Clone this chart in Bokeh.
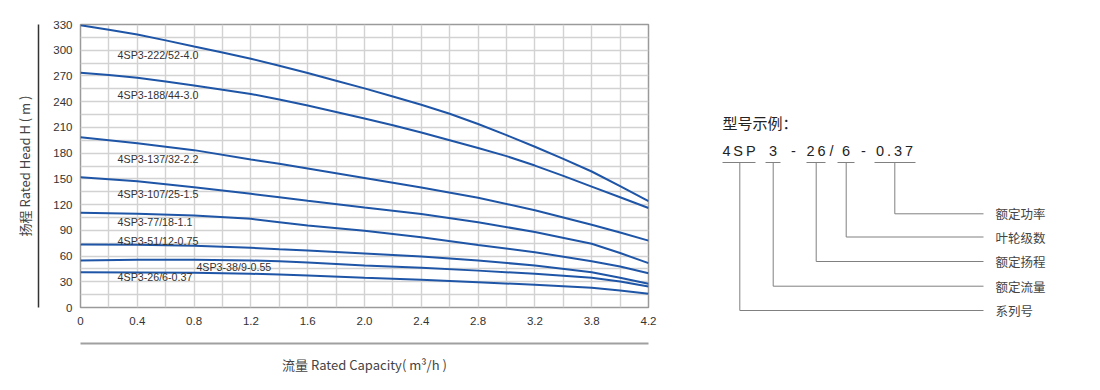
from bokeh.plotting import figure
from bokeh.models import LinearAxis, FixedTicker, Range1d
from bokeh.layouts import row
from bokeh.embed import file_html
from bokeh.resources import INLINE
from bokeh.core.properties import value

# ---------------- data ----------------
flow_fine = [0.0, 0.21, 0.42, 0.63, 0.84, 1.05, 1.26, 1.47, 1.68, 1.89, 2.1,
             2.31, 2.52, 2.73, 2.94, 3.15, 3.36, 3.57, 3.78, 3.99, 4.2]
flow_mid = [0.0, 0.42, 0.84, 1.26, 1.47, 1.68, 2.1, 2.52, 2.94, 3.36, 3.78, 3.99, 4.2]
x_tick_pos = [0.0, 0.42, 0.84, 1.26, 1.68, 2.1, 2.52, 2.94, 3.36, 3.78, 4.2]
x_tick_labels = ["0", "0.4", "0.8", "1.2", "1.6", "2.0", "2.4", "2.8", "3.2", "3.8", "4.2"]
y_ticks = [0, 30, 60, 90, 120, 150, 180, 210, 240, 270, 300, 330]

model_names = ["4SP3-222/52-4.0", "4SP3-188/44-3.0", "4SP3-137/32-2.2", "4SP3-107/25-1.5",
               "4SP3-77/18-1.1", "4SP3-51/12-0.75", "4SP3-38/9-0.55", "4SP3-26/6-0.37"]

# heads read at flow_fine
head_222 = [329, 324, 318.3, 311.5, 304.3, 297.3, 290, 282, 273.5, 264.5, 255.5,
            246, 236.5, 226, 214, 201, 187.4, 173.4, 158.6, 141.5, 124]
head_188 = [273.6, 271, 267.8, 263.5, 258.8, 254, 249, 242.5, 235.5, 228, 220.5,
            212.5, 204, 195, 186, 176.5, 165.5, 153.5, 141, 128.5, 116]
# heads read at flow_mid
head_137 = [198.6, 191.6, 183.5, 172.5, 167.5, 162, 151, 140, 128, 113.5, 96.5, 87.5, 78]
head_107 = [152, 147.3, 140.3, 132.6, 128.6, 124.5, 116.5, 109, 99.5, 88, 74.3, 63.5, 51.7]
head_77 = [110.4, 109.2, 107.3, 103.4, 99.5, 95.5, 89.4, 82, 73, 64.5, 54, 47.8, 40]
head_51 = [73.5, 73.1, 71.9, 69.6, 68, 66.5, 63, 59.5, 54.8, 49, 41, 34.8, 27.6]
head_38 = [54.8, 55.6, 55.6, 54.8, 54, 52.5, 49, 46.3, 43, 39.3, 34.6, 30.2, 24.5]
head_26 = [41.2, 40.8, 40.4, 39.3, 38.5, 37.3, 34.6, 32.3, 29.5, 26.5, 23, 19.8, 16]

fine_heads = [head_222, head_188]
mid_heads = [head_137, head_107, head_77, head_51, head_38, head_26]

label_x = [0.274, 0.274, 0.274, 0.274, 0.274, 0.274, 0.857, 0.274]
label_y = [295, 248, 173, 132.5, 100, 78, 47.8, 35.3]

code_parts = ["4\u2009S\u2009P", "3", "-", "2\u20096", "/", "6", "-", "0\u2009.\u20093\u20097"]
meanings = ["额定功率", "叶轮级数", "额定扬程", "额定流量", "系列号"]

# ---------------- styles ----------------
BLUE = "#1f55a6"
LATIN = "Liberation Sans"
CJK = "Noto Sans CJK SC"

# ---------------- chart ----------------
p1 = figure(frame_width=568, frame_height=283,
            x_range=Range1d(0, 4.2), y_range=Range1d(0, 330),
            x_axis_location=None, y_axis_location=None,
            toolbar_location=None, output_backend="svg",
            min_border_left=80, min_border_right=52,
            min_border_top=24, min_border_bottom=83)
p1.frame_align = False
p1.outline_line_color = "#9a9a9a"
p1.outline_line_width = 1.5

p1.xgrid.ticker = FixedTicker(ticks=[round(0.21 * k, 2) for k in range(21)])
p1.ygrid.ticker = FixedTicker(ticks=list(range(0, 331, 15)))
for g in (p1.xgrid, p1.ygrid):
    g.grid_line_color = "#d2d2d2"
    g.grid_line_width = 1.4


def tick_axis(ticker, **kw):
    return LinearAxis(ticker=ticker, axis_line_color=None,
                      major_tick_line_color=None, minor_tick_line_color=None,
                      major_tick_in=0, major_tick_out=0, minor_tick_in=0, minor_tick_out=0,
                      major_label_text_font=LATIN, major_label_text_font_size="11.5px",
                      major_label_text_color="#333333", **kw)


def spacer_axis(size):
    # an axis with no ticks and a blank 1px label: its standoff only reserves room
    return LinearAxis(ticker=FixedTicker(ticks=[]), axis_line_color=None,
                      major_tick_line_color=None, minor_tick_line_color=None,
                      major_tick_in=0, major_tick_out=0, minor_tick_in=0, minor_tick_out=0,
                      major_label_text_font_size="0px",
                      axis_label=" ", axis_label_text_font_size="1px",
                      axis_label_standoff=size)


def title_axis(label, color, width, standoff):
    return LinearAxis(ticker=FixedTicker(ticks=[]), axis_line_color=color, axis_line_width=width,
                      major_tick_line_color=None, minor_tick_line_color=None,
                      major_tick_in=0, major_tick_out=0, minor_tick_in=0, minor_tick_out=0,
                      major_label_text_font_size="0px",
                      axis_label=label, axis_label_standoff=standoff,
                      axis_label_text_font=CJK, axis_label_text_font_size="13px",
                      axis_label_text_font_style="normal", axis_label_text_color="#444444")


yax = tick_axis(FixedTicker(ticks=y_ticks), major_label_standoff=8)
p1.add_layout(yax, "left")
p1.add_layout(spacer_axis(8), "left")
p1.add_layout(title_axis("扬程 Rated Head H ( m )", "#333333", 1.5, 5), "left")

xax = tick_axis(FixedTicker(ticks=x_tick_pos), major_label_standoff=9,
                major_label_overrides={t: s for t, s in zip(x_tick_pos, x_tick_labels)})
p1.add_layout(xax, "below")
p1.add_layout(spacer_axis(12), "below")
p1.add_layout(title_axis("流量 Rated Capacity( m³/h )", "#a0a0a0", 2, 11), "below")

for h in fine_heads:
    p1.line(flow_fine, h, line_color=BLUE, line_width=2)
for h in mid_heads:
    p1.line(flow_mid, h, line_color=BLUE, line_width=2)

p1.text(x=label_x, y=label_y, text=model_names, text_font=value(LATIN),
        text_font_size="10.7px", text_color="#333333",
        text_align="left", text_baseline="middle")

# ---------------- model code diagram ----------------
p2 = figure(width=400, height=390, x_range=Range1d(700, 1100), y_range=Range1d(390, 0),
            x_axis_location=None, y_axis_location=None,
            toolbar_location=None, output_backend="svg", min_border=0)
p2.frame_align = False
p2.grid.visible = False
p2.outline_line_color = None

p2.text(x=[722], y=[122], text=["型号示例："], text_font=value(CJK), text_font_size="15px",
        text_color="#222222", text_align="left", text_baseline="middle")

part_x = [738.5, 772.5, 793, 815.5, 831, 845.5, 863, 894]
p2.text(x=part_x, y=[150] * len(part_x), text=code_parts, text_font=value(LATIN),
        text_font_size="14.5px", text_color="#222222", text_align="center", text_baseline="middle")

ul_x0 = [722, 765, 806, 837, 874]
ul_x1 = [755, 780, 825, 854, 915]
p2.segment(x0=ul_x0, y0=[162] * 5, x1=ul_x1, y1=[162] * 5, line_color="#808080", line_width=1)

lead_x = [894.3, 845.7, 815.7, 772.7, 739.3]
lead_y = [213.3, 236.5, 261, 285.7, 310]
p2.segment(x0=lead_x, y0=[162] * 5, x1=lead_x, y1=lead_y, line_color="#808080", line_width=1)
p2.segment(x0=lead_x, y0=lead_y, x1=[983] * 5, y1=lead_y, line_color="#808080", line_width=1)
p2.text(x=[995] * 5, y=lead_y, text=meanings, text_font=value(CJK), text_font_size="12.5px",
        text_color="#444444", text_align="left", text_baseline="middle")

layout = row(p1, p2)
open("out.html", "w").write(file_html(layout, INLINE))
